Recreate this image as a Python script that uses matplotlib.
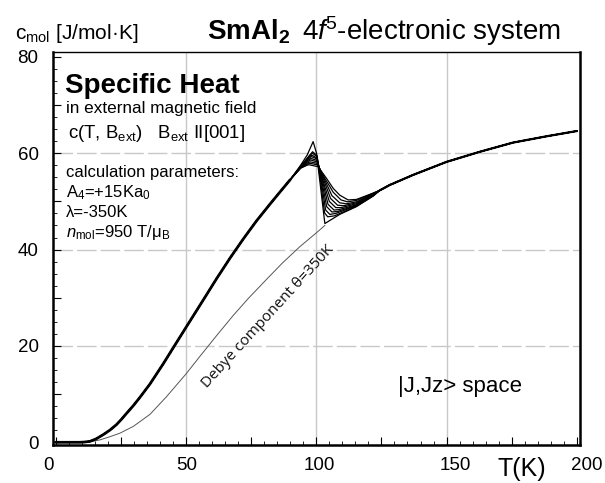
import matplotlib
matplotlib.use('Agg')
import matplotlib.pyplot as plt
from matplotlib.ticker import MultipleLocator, FixedLocator, FixedFormatter
from matplotlib.transforms import ScaledTranslation

plt.rcParams['font.family'] = ['Liberation Sans', 'DejaVu Sans']
plt.rcParams['mathtext.fontset'] = 'custom'
plt.rcParams['mathtext.rm'] = 'Liberation Sans'
plt.rcParams['mathtext.it'] = 'Liberation Sans:italic'
plt.rcParams['mathtext.bf'] = 'Liberation Sans:bold'

# ---- data ----
# common low-temperature part (all fields overlap)
T_low = [0, 9.3, 11, 13.2, 15.5, 18.3, 21, 23.4, 25.3, 27.2, 29.8, 32.3, 36.2, 41.3, 45.1,
         50.2, 56.6, 61.8, 67, 72, 77, 82.2, 86, 90]
c_low = [0, 0, 0.05, 0.2, 0.7, 1.6, 2.6, 3.7, 4.8, 6.0, 7.6, 9.3, 12.1, 16.3, 19.6,
         24.0, 29.5, 34.0, 38.3, 42.2, 45.9, 49.4, 51.9, 54.5]

# common high-temperature part
T_high = [124.4, 128.2, 137.2, 150, 162.8, 175.5, 188.3, 200]
c_high = [52.3, 53.4, 55.5, 58.2, 60.3, 62.2, 63.5, 64.6]

# field-dependent part around the transition (B_ext = 0 first, then increasing field)
T_mid = [
    [94, 96.5, 98.8, 100.1, 103.3, 109.0, 115.4, 121.8],
    [94, 97.5, 98.6, 100.3, 101.8, 103.2, 104.4, 107.0, 115.4, 121.8],
    [94, 97.5, 98.5, 100.3, 102.0, 103.6, 105.2, 107.5, 115.4, 121.8],
    [94, 97.3, 98.3, 100.3, 102.2, 104.0, 106.0, 108.2, 115.4, 121.8],
    [94, 97.2, 98.1, 100.3, 102.4, 104.5, 106.8, 108.8, 115.4, 121.8],
    [94, 97.0, 98.0, 100.3, 102.6, 105.0, 107.5, 109.5, 115.4, 121.8],
    [94, 96.9, 97.8, 100.3, 102.9, 105.5, 108.2, 110.5, 115.4, 121.8],
    [94, 96.8, 97.6, 100.4, 103.2, 106.0, 109.0, 111.5, 115.4, 121.8],
    [94, 96.6, 97.4, 100.5, 103.5, 106.5, 109.5, 112.0, 115.4, 121.8],
    [94, 96.5, 97.2, 100.7, 103.9, 106.5, 109.0, 112.2, 115.4, 121.8],
]
c_mid = [
    [57.5, 59.6, 62.4, 60.0, 45.4, 47.3, 48.9, 51.1],
    [57.3, 59.6, 60.3, 59.5, 53.5, 47.6, 46.8, 47.0, 49.0, 51.1],
    [57.2, 59.5, 60.0, 59.3, 53.8, 48.2, 47.3, 47.5, 49.1, 51.2],
    [57.2, 59.2, 59.6, 59.0, 54.0, 48.9, 47.8, 47.9, 49.2, 51.2],
    [57.1, 58.9, 59.3, 58.8, 54.2, 49.4, 48.2, 48.3, 49.3, 51.3],
    [57.1, 58.6, 58.9, 58.5, 54.3, 50.0, 48.7, 48.7, 49.5, 51.4],
    [57.0, 58.3, 58.6, 58.2, 54.4, 50.6, 49.2, 49.1, 49.7, 51.5],
    [57.0, 58.0, 58.2, 57.9, 54.5, 51.2, 49.7, 49.5, 49.9, 51.6],
    [56.9, 57.7, 57.9, 57.6, 54.6, 51.9, 50.3, 49.9, 50.2, 51.7],
    [56.9, 57.5, 57.6, 57.2, 54.8, 52.7, 51.3, 50.3, 50.4, 51.7],
]

# Debye lattice component, theta = 350 K
T_debye = [0, 9.3, 13.2, 17, 20.5, 24.7, 29.8, 36.2, 42.6, 50.2, 55.3, 62, 68.1, 74,
           80.9, 87, 93.7, 100.1, 103.3]
c_debye = [0, 0, 0.1, 0.5, 1.1, 1.9, 3.3, 5.8, 9.5, 14.3, 17.8, 22.3, 26.3, 29.9,
           33.8, 37.2, 40.6, 43.5, 45.0]

x_ticks = [0, 50, 100, 150, 200]
y_ticks = [0, 20, 40, 60, 80]

W, H = 605, 483
fig = plt.figure(figsize=(W / 100, H / 100), dpi=100)
ax = fig.add_axes([52.5 / W, 1 - 445 / H, (579.5 - 52.5) / W, (445 - 52) / H])

ax.set_xlim(-1.2, 201.0)
ax.set_ylim(-0.56, 81.0)

# grid
for xv in x_ticks[1:-1]:
    ax.axvline(xv, color='#c8c8c8', lw=1.0, zorder=0)
for yv in y_ticks[1:-1]:
    ax.axhline(yv, color='#c8c8c8', lw=1.0, ls=(0, (14, 3)), zorder=0)

# curves
ax.plot(T_debye, c_debye, color='#555555', lw=0.7, zorder=2)
for tm, cm in zip(T_mid, c_mid):
    ax.plot(T_low + tm + T_high, c_low + cm + c_high, color='black', lw=0.9, zorder=3)
ax.plot(T_low, c_low, color='black', lw=2.0, zorder=3, solid_capstyle='round')
ax.plot(T_high, c_high, color='black', lw=1.6, zorder=3, solid_capstyle='round')

# ticks
ax.xaxis.set_major_locator(FixedLocator([0, 25, 50, 75, 100, 125, 150, 175, 200]))
ax.xaxis.set_major_formatter(FixedFormatter(['0', '', '50', '', '100', '', '150', '', '200']))
ax.xaxis.set_minor_locator(MultipleLocator(5))
ax.yaxis.set_major_locator(FixedLocator([0, 10, 20, 30, 40, 50, 60, 70, 80]))
ax.yaxis.set_major_formatter(FixedFormatter(['0', '', '20', '', '40', '', '60', '', '80']))
ax.yaxis.set_minor_locator(MultipleLocator(2.5))
ax.tick_params(axis='both', which='major', direction='in', length=6, width=0.8,
               labelsize=13.5, top=False, right=False)
ax.tick_params(axis='both', which='minor', direction='in', length=3, width=0.6,
               top=False, right=False)
ax.tick_params(axis='x', which='major', pad=9)
ax.tick_params(axis='y', which='major', pad=10)
for lab in ax.get_xticklabels() + ax.get_yticklabels():
    lab.set_family(['Liberation Sans Narrow', 'Liberation Sans'])

# the original software spaces the x labels slightly wider than the ticks
x_label_shift_px = [-7, 0, 1, 0, 3, 0, 9, 0, 10]
for lab, dx in zip(ax.get_xticklabels(), x_label_shift_px):
    lab.set_transform(lab.get_transform() + ScaledTranslation(dx / 100, 0, fig.dpi_scale_trans))

for side in ['left', 'right', 'bottom']:
    ax.spines[side].set_linewidth(1.8)
ax.spines['top'].set_linewidth(1.0)


def fx(x):
    return x / W


def fy(y):
    return 1 - y / H


# header texts
fig.text(fx(15), fy(39), r'c$_{\mathrm{mol}}$ [J/mol·K]', fontsize=15, va='baseline', ha='left')
fig.text(fx(207), fy(40), r'$\mathbf{SmAl}_{\mathbf{2}}$', fontsize=20, va='baseline', ha='left')
fig.text(fx(302), fy(40), r'4$\mathit{f}$$^{5}$-electronic system', fontsize=20, va='baseline', ha='left')

# left block texts
fig.text(fx(65), fy(93), 'Specific Heat', fontsize=20, fontweight='bold', va='baseline')
fig.text(fx(66), fy(113), 'in external magnetic field', fontsize=12.3, va='baseline')
fig.text(fx(68), fy(138), r'c(T, B$_{\mathrm{ext}}$)   B$_{\mathrm{ext}}$ II[001]', fontsize=13.4, va='baseline')
fig.text(fx(66), fy(177), 'calculation parameters:', fontsize=12, va='baseline')
fig.text(fx(66), fy(197), r'A$_{4}$=+15Ka$_{0}$', fontsize=12, va='baseline')
fig.text(fx(66), fy(217), 'λ=-350K', fontsize=12, va='baseline')
fig.text(fx(66), fy(237), r'$\mathit{n}_{\mathrm{mol}}$=950 T/μ$_{\mathrm{B}}$', fontsize=12, va='baseline')

# Debye label
ax.text(81.4, 26.0, 'Debye component θ=350K', rotation=47.5, fontsize=11, ha='center', va='center',
        rotation_mode='anchor', family=['Open Sans', 'DejaVu Sans'], color='#111111')

fig.text(fx(398), fy(392), '|J,Jz> space', fontsize=16, va='baseline')
fig.text(fx(498), fy(476), 'T(K)', fontsize=18, va='baseline')

fig.savefig('out.png', dpi=100)
